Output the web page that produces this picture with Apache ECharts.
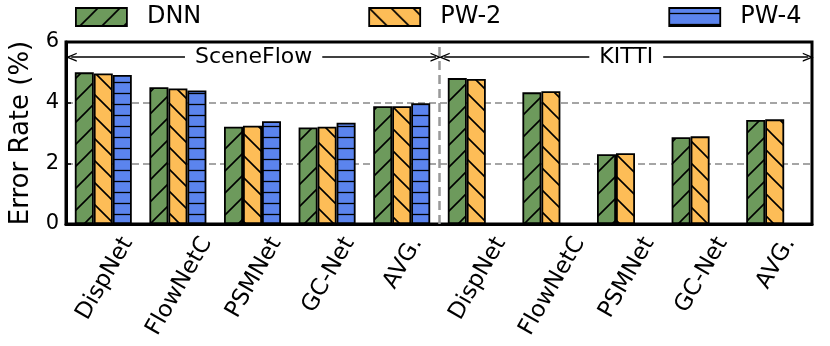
<!DOCTYPE html>
<html>
<head>
<meta charset="utf-8">
<script src="https://cdn.jsdelivr.net/npm/echarts@6/dist/echarts.min.js"></script>
<style>
  html, body { margin: 0; padding: 0; background: #fff; }
  #main { width: 830px; height: 346px; }
</style>
</head>
<body>
<div id="main"></div>
<script>
  const categories = ['DispNet', 'FlowNetC', 'PSMNet', 'GC-Net', 'AVG.', 'DispNet', 'FlowNetC', 'PSMNet', 'GC-Net', 'AVG.']
  const dnn = [5.0, 4.51, 3.21, 3.18, 3.88, 4.81, 4.34, 2.3, 2.86, 3.43]
  const pw2 = [4.96, 4.47, 3.24, 3.21, 3.88, 4.78, 4.38, 2.33, 2.89, 3.45]
  const pw4 = [4.91, 4.4, 3.39, 3.34, 3.98, null, null, null, null, null]
  const yTicks = [0, 2, 4, 6]
  const groups = [
    { name: 'SceneFlow', from: 0.07, to: 4.96 },
    { name: 'KITTI', from: 5.07, to: 9.95 },
  ]

  const FONT = 'DejaVu Sans'

  // hatch fills like matplotlib's '/', '\\' and '-'
  function hatch(bg, kind) {
    const w = 22
    const h = kind === '-' ? 11 : 22
    const c = document.createElement('canvas')
    c.width = w
    c.height = h
    const g = c.getContext('2d')
    g.fillStyle = bg
    g.fillRect(0, 0, w, h)
    g.strokeStyle = '#000'
    g.lineWidth = 1.6
    g.beginPath()
    if (kind === '/') {
      g.moveTo(-2, 24); g.lineTo(24, -2)
      g.moveTo(-2, 2); g.lineTo(2, -2)
      g.moveTo(20, 24); g.lineTo(24, 20)
    } else if (kind === '\\') {
      g.moveTo(-2, -2); g.lineTo(24, 24)
      g.moveTo(-2, 20); g.lineTo(2, 24)
      g.moveTo(20, -2); g.lineTo(24, 2)
    } else {
      g.lineWidth = 1.3
      g.moveTo(0, 5.5); g.lineTo(w, 5.5)
    }
    g.stroke()
    return { image: c, repeat: 'repeat' }
  }

  // place rotated labels like matplotlib (rotation=60, ha='center'):
  // padding moves each label's centre straight below its tick
  const LABEL_SIZE = 23
  const measure = document.createElement('canvas').getContext('2d')
  measure.font = LABEL_SIZE + 'px "' + FONT + '"'
  const xData = categories.map((name) => {
    const L = measure.measureText(name).width
    const q2 = (12 + 0.433 * L + 0.25 * LABEL_SIZE) / 2
    return {
      value: name,
      textStyle: {
        align: 'center',
        verticalAlign: 'top',
        padding: [Math.max(0, q2 - LABEL_SIZE / 2), q2 * 3.464 - 6, 0, 0],
      },
    }
  })

  const chevron = 'path://M0,10 L5,0 L10,10 L8.4,10 L5,3.2 L1.6,10 Z'

  function barSeries(name, data, fill) {
    return {
      name: name,
      type: 'bar',
      data: data,
      barWidth: 19,
      barGap: '0%',
      itemStyle: { color: fill, borderColor: '#000', borderWidth: 1.8 },
    }
  }

  const chart = echarts.init(document.getElementById('main'))
  chart.setOption({
    animation: false,
    textStyle: { fontFamily: FONT },
    legend: {
      data: ['DNN', 'PW-2', 'PW-4'],
      left: 70,
      top: 0,
      icon: 'rect',
      itemWidth: 51,
      itemHeight: 18,
      itemGap: 167,
      itemStyle: { borderColor: '#000', borderWidth: 1.8 },
      textStyle: { fontSize: 24, color: '#000', fontFamily: FONT, padding: [0, 0, 0, 15] },
    },
    grid: {
      left: 66,
      right: 18,
      top: 42,
      bottom: 122,
      containLabel: false,
      outerBoundsMode: 'none',
      show: true,
      borderColor: '#000',
      borderWidth: 3,
    },
    xAxis: [
      {
        type: 'category',
        data: xData,
        axisLine: { lineStyle: { color: '#000', width: 3 } },
        axisTick: { show: false },
        axisLabel: {
          interval: 0,
          rotate: 60,
          margin: 0,
          fontSize: LABEL_SIZE,
          color: '#000',
          fontFamily: FONT,
        },
      },
      { type: 'value', min: 0, max: 10, show: false },
    ],
    yAxis: {
      type: 'value',
      min: yTicks[0],
      max: yTicks[yTicks.length - 1],
      interval: 2,
      name: 'Error Rate (%)',
      nameLocation: 'middle',
      nameGap: 31,
      nameTextStyle: { fontSize: 26, color: '#000', fontFamily: FONT },
      axisLine: { show: true, lineStyle: { color: '#000', width: 3 } },
      axisTick: { show: true, inside: true, length: 5, lineStyle: { color: '#000', width: 1.5 } },
      axisLabel: { fontSize: 21, color: '#000', margin: 7, fontFamily: FONT },
      splitLine: {
        showMinLine: false,
        showMaxLine: false,
        lineStyle: { color: '#888', width: 1.5, type: [7, 4] },
      },
    },
    series: [
      barSeries('DNN', dnn, hatch('#6d9a5c', '/')),
      barSeries('PW-2', pw2, hatch('#fdbd57', '\\')),
      barSeries('PW-4', pw4, hatch('#5b84ee', '-')),
      {
        type: 'line',
        xAxisIndex: 1,
        data: [],
        silent: true,
        markLine: {
          silent: true,
          animation: false,
          symbol: 'none',
          lineStyle: { color: '#999', width: 2.5, type: [9, 5] },
          label: { show: false },
          data: [{ xAxis: 5 }],
        },
      },
      {
        type: 'line',
        xAxisIndex: 1,
        data: [],
        silent: true,
        markLine: {
          silent: true,
          animation: false,
          symbol: [chevron, chevron],
          symbolSize: [9, 11],
          lineStyle: { color: '#000', width: 1.5, type: 'solid' },
          label: {
            show: true,
            position: 'middle',
            distance: 0,
            verticalAlign: 'middle',
            fontSize: 22,
            color: '#000',
            fontFamily: FONT,
            backgroundColor: '#fff',
            padding: [2, 10],
          },
          data: groups.map((g) => [
            { coord: [g.from, 5.5], label: { formatter: g.name } },
            { coord: [g.to, 5.5] },
          ]),
        },
      },
    ],
  })
</script>
</body>
</html>
